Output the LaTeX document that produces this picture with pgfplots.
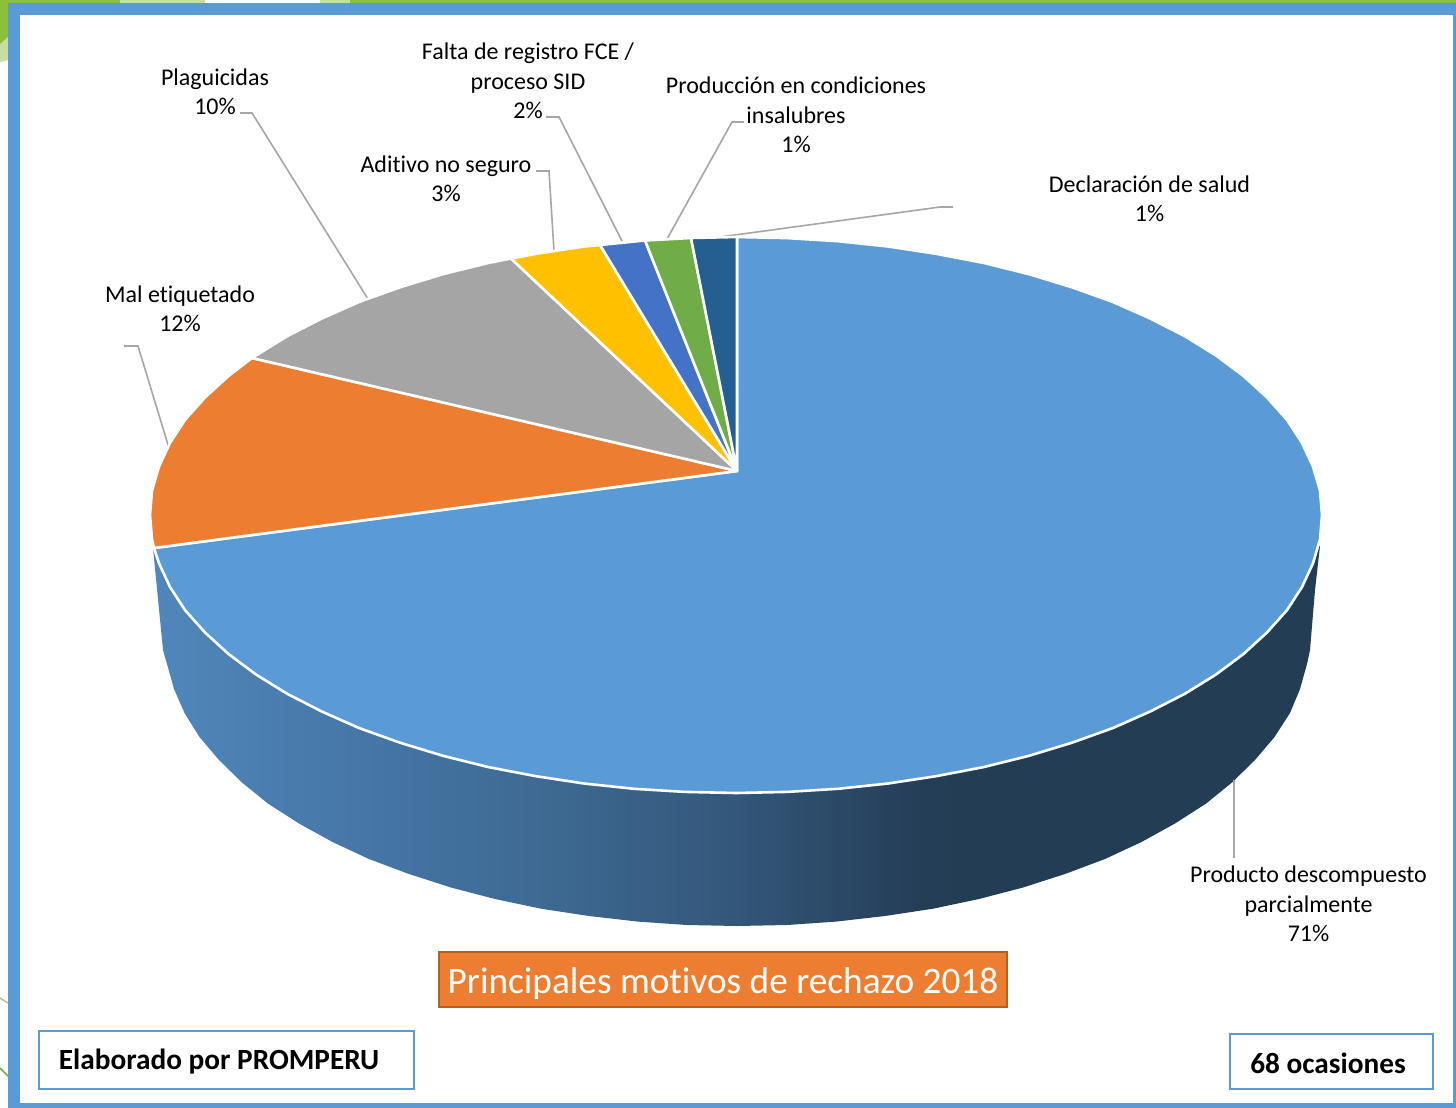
\documentclass[border=0pt]{standalone}
\usepackage{pgfplots}
\pgfplotsset{compat=1.18}
\usepackage{fontspec}
\setmainfont[Ligatures=NoCommon]{Carlito}
\definecolor{cMain}{HTML}{5B9BD5}
\definecolor{cOrange}{HTML}{ED7D31}
\definecolor{cGray}{HTML}{A5A5A5}
\definecolor{cYellow}{HTML}{FFC000}
\definecolor{cBlue}{HTML}{4472C4}
\definecolor{cGreen}{HTML}{70AD47}
\definecolor{cDark}{HTML}{255E91}
\definecolor{cLeader}{HTML}{A6A6A6}
\definecolor{cBg}{HTML}{8DBF3E}
\definecolor{cPale}{HTML}{C6DFA0}
\definecolor{cTitleEdge}{HTML}{B5601F}
\pgfdeclarehorizontalshading{sideshade}{100bp}{
 color(0bp)=(rgb,255:red,80;green,135;blue,186);
 color(25bp)=(rgb,255:red,80;green,135;blue,186);
 color(35.2bp)=(rgb,255:red,68;green,116;blue,164);
 color(42.5bp)=(rgb,255:red,61;green,104;blue,144);
 color(49.9bp)=(rgb,255:red,51;green,87;blue,122);
 color(57.3bp)=(rgb,255:red,38;green,63;blue,90);
 color(59.7bp)=(rgb,255:red,35;green,61;blue,84);
 color(75bp)=(rgb,255:red,35;green,61;blue,84);
 color(100bp)=(rgb,255:red,35;green,61;blue,84)}
\newcommand{\lab}{\fontsize{24}{29.3}\selectfont}
\tikzset{lbl/.style={align=center, inner sep=0pt, font=\lab}}
\begin{document}
\begin{tikzpicture}
\begin{axis}[
  scale only axis, width=1456pt, height=1108pt,
  xmin=0, xmax=1456, ymin=0, ymax=1108, y dir=reverse,
  axis lines=none, clip=true,
  leader/.style={draw=cLeader, line width=1.6pt},
  slice/.style={draw=white, line width=2.6pt, line join=round},
]
% background
\addplot[fill=cBg, draw=none] coordinates {(0,0)(120,0)(120,4)(0,4)} --cycle;
\addplot[fill=cPale, draw=none] coordinates {(120,0)(205,0)(205,4)(120,4)} --cycle;
\addplot[fill=cPale, draw=none] coordinates {(320,0)(350,0)(350,4)(320,4)} --cycle;
\addplot[fill=cBg, draw=none] coordinates {(350,0)(1456,0)(1456,4)(350,4)} --cycle;
\addplot[fill=cPale, draw=none] coordinates {(0,34)(9,34)(9,60)(0,62)} --cycle;
\addplot[fill=cBg, draw=none] coordinates {(0,0)(9,0)(9,36)(0,44)} --cycle;
\addplot[draw=cPale!70!gray, line width=1.5pt] coordinates {(0,998)(8,1003)};
\addplot[draw=cGreen, line width=1.5pt] coordinates {(0,1068)(8,1076)};
% frame
\addplot[fill=cMain, draw=none] coordinates {(8,3)(1456,3)(1456,1108)(8,1108)} --cycle;
\addplot[fill=white, draw=none] coordinates {(20,15)(1452.5,15)(1452.5,1103)(20,1103)} --cycle;
% side wall
\addplot[draw=none, shade, shading=sideshade] coordinates {
(1320,546)(1315,590)(1310,650)(1307,664)(1300,689)(1290,713)(1274.5,737)(1255,760)(1232,782.5)(1206,803.6)
(1175,823.5)(1141.5,842)(1105,859)(1065,874)(1023,887.5)(979,899)(933,908.7)(885,916)(836,921.6)(787,925)
(737,926)(687,925)(638,921.6)(589,916)(541,908.7)(495,899)(451,887.5)(409,874)(369,859)(332.5,842)
(299,823.5)(268,803.6)(242,782.5)(219,760)(199.5,737)(184.5,713)(174,689)(167,664)(163,650)(153,548)
(736,600)} --cycle;
% leaders
\addplot[leader] coordinates {(240,113)(252,113)(368,299)};
\addplot[leader] coordinates {(124,346)(138,346)(169,448)};
\addplot[leader] coordinates {(536,171)(549,171)(554,251)};
\addplot[leader] coordinates {(546,117)(559,117)(622,241)};
\addplot[leader] coordinates {(744,122)(732,122)(667,239)};
\addplot[leader] coordinates {(953,207)(940,207)(713,238)};
\addplot[leader] coordinates {(1234,780)(1234,858)};
% slices
\addplot[slice, fill=cMain] coordinates {
(737,471)(737,237)(787,238.1)(838,241.2)(888,246.5)(936,253.8)(984,263)(1029,274.2)(1072,287.3)(1113,302)
(1150,318.4)(1185,336.3)(1216,355.5)(1243.5,376)(1267,397.5)(1287,419.9)(1302,443)(1313,466.7)(1320,490.8)(1322,515)
(1320,539.2)(1313,563.3)(1302,587)(1287,610.1)(1267,632.5)(1243.5,654)(1216,674.5)(1185,693.7)(1150,711.6)(1113,728)
(1072,742.7)(1029,755.8)(984,767)(936,776.2)(888,783.5)(838,788.8)(787,791.9)(736,793)(685,791.9)(634,788.8)
(584,783.5)(536,776.2)(488,767)(443,755.8)(400,742.7)(359,728)(322,711.6)(287,693.7)(256,674.5)(228.5,654)
(205,632.5)(185,610.1)(170,587)(159,563.3)(154,548)} --cycle;
\addplot[slice, fill=cOrange] coordinates {
(737,471)(154,548)(152,539)(150,515)(152,490.8)(159,466.7)(170,443)(185,419.9)(205,397.5)(228.5,376)(252,358)} --cycle;
\addplot[slice, fill=cGray] coordinates {
(737,471)(252,358)(287,336.3)(322,318.4)(359,302)(400,287.3)(443,274.2)(488,263)(511,258.5)} --cycle;
\addplot[slice, fill=cYellow] coordinates {
(737,471)(511,258.5)(536,253.8)(584,246.5)(600,245)} --cycle;
\addplot[slice, fill=cBlue] coordinates {(737,471)(600,245)(645,240.5)} --cycle;
\addplot[slice, fill=cGreen] coordinates {(737,471)(645,240.5)(691,238)} --cycle;
\addplot[slice, fill=cDark] coordinates {(737,471)(691,238)(737,237)} --cycle;
% labels
\node[lbl] at (axis cs:215,92) {Plaguicidas\\10\%};
\node[lbl] at (axis cs:528,81) {Falta de registro FCE /\\proceso SID\\2\%};
\node[lbl] at (axis cs:796,115) {Producción en condiciones\\insalubres\\1\%};
\node[lbl] at (axis cs:1149.5,199) {Declaración de salud\\1\%};
\node[lbl] at (axis cs:446,179) {Aditivo no seguro\\3\%};
\node[lbl] at (axis cs:180,309) {Mal etiquetado\\12\%};
\node[lbl] at (axis cs:1308.5,904) {Producto descompuesto\\parcialmente\\71\%};
% boxes
\addplot[fill=cOrange, draw=cTitleEdge, line width=2.4pt] coordinates {(439,952)(1007,952)(1007,1007)(439,1007)} --cycle;
\node[text=white, inner sep=0pt] at (axis cs:723,984) {\fontsize{37.3}{42}\selectfont Principales motivos de rechazo 2018};
\addplot[fill=white, draw=cMain, line width=2.4pt] coordinates {(39,1031)(414,1031)(414,1089)(39,1089)} --cycle;
\node[inner sep=0pt] at (axis cs:219,1062) {\fontsize{29.3}{34}\selectfont\bfseries Elaborado por PROMPERU};
\addplot[fill=white, draw=cMain, line width=2.4pt] coordinates {(1230,1034)(1433,1034)(1433,1089)(1230,1089)} --cycle;
\node[inner sep=0pt] at (axis cs:1328,1063) {\fontsize{29.3}{34}\selectfont\bfseries 68 ocasiones};
\end{axis}
\end{tikzpicture}
\end{document}
